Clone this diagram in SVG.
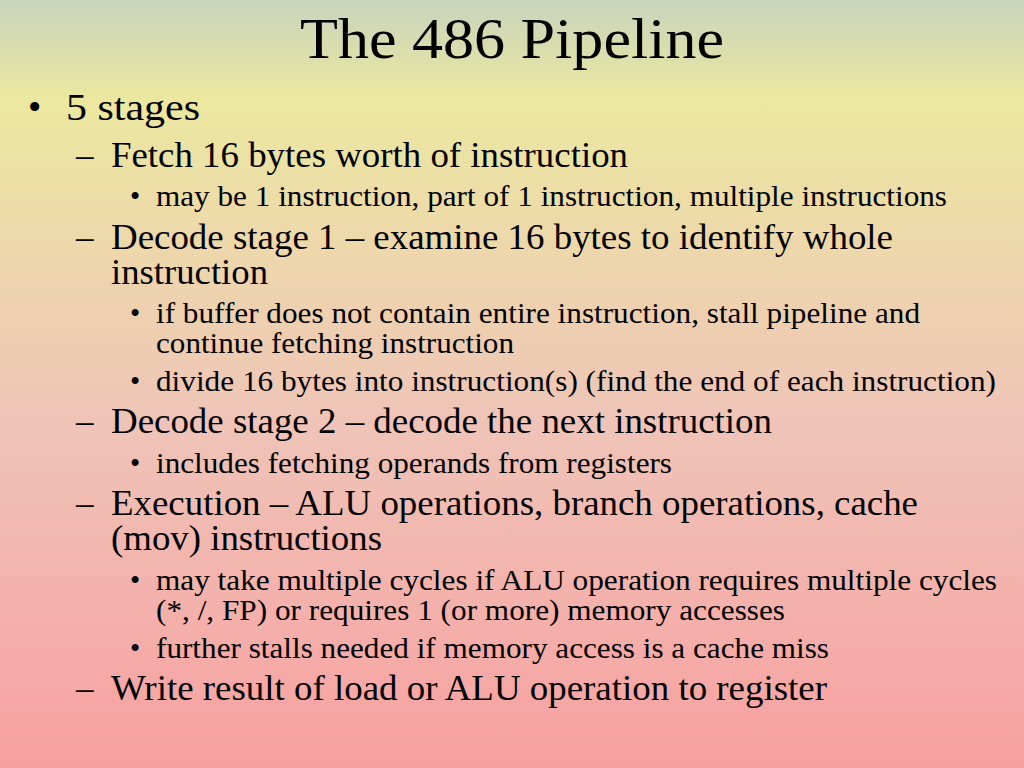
<svg xmlns="http://www.w3.org/2000/svg" width="1024" height="768" viewBox="0 0 1024 768">
<defs>
<linearGradient id="bg" x1="0" y1="0" x2="0" y2="1">
<stop offset="0" stop-color="#c8d4bc"/>
<stop offset="0.13" stop-color="#ece8a0"/>
<stop offset="0.55" stop-color="#efc4b8"/>
<stop offset="1" stop-color="#f8a0a0"/>
</linearGradient>
<style>
text{font-family:"Liberation Serif","Times New Roman",serif;fill:#000}
.t{font-size:57px}
.l1{font-size:38px}
.l2{font-size:35px}
.l3{font-size:29px}
</style>
</defs>
<rect width="1024" height="768" fill="url(#bg)"/>
<text class="t" x="300" y="58" textLength="424" lengthAdjust="spacingAndGlyphs">The 486 Pipeline</text>
<g id="body">
<text class="l1" x="28" y="120">•</text><text class="l1" x="66" y="120" textLength="134" lengthAdjust="spacingAndGlyphs">5 stages</text>
<text class="l2" x="76" y="167">–</text><text class="l2" x="111" y="167" textLength="517" lengthAdjust="spacingAndGlyphs">Fetch 16 bytes worth of instruction</text>
<text class="l3" x="130" y="206">•</text><text class="l3" x="156" y="206" textLength="791" lengthAdjust="spacingAndGlyphs">may be 1 instruction, part of 1 instruction, multiple instructions</text>
<text class="l2" x="76" y="249">–</text><text class="l2" x="111" y="249" textLength="782" lengthAdjust="spacingAndGlyphs">Decode stage 1 – examine 16 bytes to identify whole</text>
<text class="l2" x="111" y="284" textLength="157" lengthAdjust="spacingAndGlyphs">instruction</text>
<text class="l3" x="130" y="323">•</text><text class="l3" x="156" y="323" textLength="764" lengthAdjust="spacingAndGlyphs">if buffer does not contain entire instruction, stall pipeline and</text>
<text class="l3" x="156" y="353" textLength="358" lengthAdjust="spacingAndGlyphs">continue fetching instruction</text>
<text class="l3" x="130" y="391">•</text><text class="l3" x="156" y="391" textLength="840" lengthAdjust="spacingAndGlyphs">divide 16 bytes into instruction(s) (find the end of each instruction)</text>
<text class="l2" x="76" y="433">–</text><text class="l2" x="111" y="433" textLength="661" lengthAdjust="spacingAndGlyphs">Decode stage 2 – decode the next instruction</text>
<text class="l3" x="130" y="473">•</text><text class="l3" x="156" y="473" textLength="516" lengthAdjust="spacingAndGlyphs">includes fetching operands from registers</text>
<text class="l2" x="76" y="515">–</text><text class="l2" x="111" y="515" textLength="807" lengthAdjust="spacingAndGlyphs">Execution – ALU operations, branch operations, cache</text>
<text class="l2" x="111" y="550" textLength="271" lengthAdjust="spacingAndGlyphs">(mov) instructions</text>
<text class="l3" x="130" y="590">•</text><text class="l3" x="156" y="590" textLength="841" lengthAdjust="spacingAndGlyphs">may take multiple cycles if ALU operation requires multiple cycles</text>
<text class="l3" x="156" y="620" textLength="629" lengthAdjust="spacingAndGlyphs">(*, /, FP) or requires 1 (or more) memory accesses</text>
<text class="l3" x="130" y="658">•</text><text class="l3" x="156" y="658" textLength="673" lengthAdjust="spacingAndGlyphs">further stalls needed if memory access is a cache miss</text>
<text class="l2" x="76" y="700">–</text><text class="l2" x="111" y="700" textLength="716" lengthAdjust="spacingAndGlyphs">Write result of load or ALU operation to register</text>
</g>
</svg>
